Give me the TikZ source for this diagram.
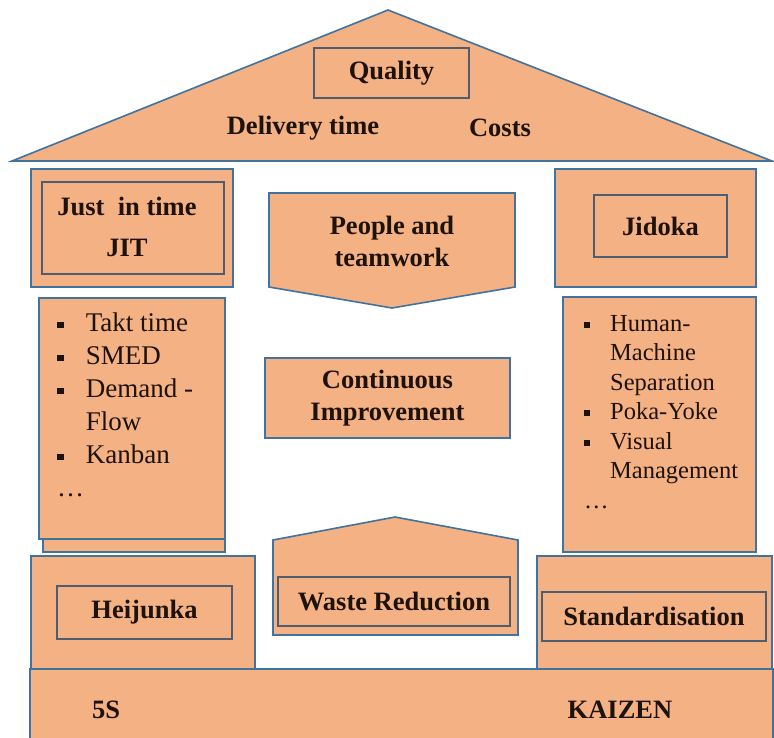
\documentclass[tikz,border=0pt]{standalone}
\usepackage{fontspec}
\setmainfont{LiberationSerif}[Extension=.ttf,UprightFont=*-Regular,BoldFont=*-Bold]
\usetikzlibrary{positioning}
\definecolor{salmon}{RGB}{244,177,131}
\definecolor{edgeblue}{RGB}{66,114,158}
\definecolor{innerblue}{RGB}{78,94,112}
\definecolor{ink}{RGB}{30,18,12}
\newcommand\sqb{\rule[0.14em]{0.24em}{0.24em}}
\newcommand\itm[1]{\makebox[1.06em][l]{\sqb}#1}
\newcommand\cont[1]{\hspace*{1.06em}#1}

\begin{document}
\begin{tikzpicture}[x=1pt,y=-1pt,
    house/.style={draw=edgeblue,fill=salmon,line width=1.6pt},
    box/.style={house,inner sep=0pt,anchor=north west},
    frame/.style={draw=innerblue,fill=salmon,line width=1.6pt,inner sep=0pt},
    title/.style={font=\fontsize{26.5}{32}\selectfont\bfseries,text=ink,align=center},
    list/.style={font=\fontsize{24.5}{29.5}\selectfont,text=ink,align=left,anchor=north west,inner sep=0pt}]
  \useasboundingbox (0,0) rectangle (774,737);
  % base of the house
  \node[box,minimum width=743,minimum height=75] (base) at (29,668) {};
  \node[title] (fives) at (106,710) {5S};
  \node[title] (kaizen) at (620,710) {KAIZEN};
  % roof
  \draw[house] (12,161) -- (388,10) -- (772,161) -- cycle;
  \node[frame,title,minimum width=155,minimum height=50] (quality) at (391.5,73) {Quality};
  \node[title] (delivery) at (303,128) {Delivery time};
  \node[title] (costs) at (500,128) {Costs};
  % left pillar
  \node[box,minimum width=202,minimum height=118] (jit) at (30,168) {};
  \node[frame,minimum width=182,minimum height=92,anchor=north west] (jitin) at (41,181) {};
  \node[title,font=\fontsize{26.5}{41}\selectfont\bfseries] (jittext) at (127,227) {Just\ \ in time\\JIT};
  \node[box,minimum width=182,minimum height=251] (jitback) at (42,300) {};
  \node[box,minimum width=186,minimum height=241] (jitlist) at (38,297) {};
  \node[list,font=\fontsize{27}{33}\selectfont] (jititems) at (57,313) {\itm{Takt time}\\\itm{SMED}\\\itm{Demand -}\\\cont{Flow}\\\itm{Kanban}\\\dots};
  \node[box,minimum width=224,minimum height=113] (heij) at (30,555) {};
  \node[frame,title,minimum width=175,minimum height=53] (heijin) at (144.5,612.5) {Heijunka};
  % middle
  \draw[house] (269,193) -- (515,193) -- (515,287) -- (392,308) -- (269,287) -- cycle;
  \node[title] (people) at (392,241) {People and\\teamwork};
  \node[box,title,minimum width=245,minimum height=80,anchor=center] (improve) at (387.5,398) {Continuous\\Improvement};
  \draw[house] (273,540) -- (395,517) -- (518,540) -- (518,635) -- (273,635) -- cycle;
  \node[frame,title,minimum width=232,minimum height=49] (waste) at (394,601.5) {Waste Reduction};
  % right pillar
  \node[box,minimum width=201,minimum height=118] (jidoka) at (554,168) {};
  \node[frame,title,minimum width=133,minimum height=62] (jidokain) at (660.5,226) {Jidoka};
  \node[box,minimum width=193,minimum height=255] (jidlist) at (562,296) {};
  \node[list] (jiditems) at (584,315) {\itm{Human-}\\\cont{Machine}\\\cont{Separation}\\\itm{Poka-Yoke}\\\itm{Visual}\\\cont{Management}\\\dots};
  \node[box,minimum width=235,minimum height=113] (stand) at (536,555) {};
  \node[frame,title,minimum width=224,minimum height=49] (standin) at (654,616.5) {Standardisation};
\end{tikzpicture}
\end{document}
